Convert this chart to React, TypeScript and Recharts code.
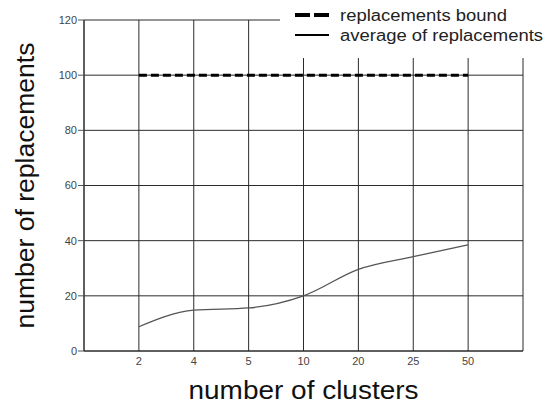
import { CartesianGrid, Label, Legend, Line, LineChart, XAxis, YAxis } from "recharts";

// x categories (number of clusters) and the two series
const clusters = ["2", "4", "5", "10", "20", "25", "50"];
const averageReplacements = [8.8, 14.8, 15.6, 20, 29.6, 34.2, 38.5];
const replacementsBound = [100, 100, 100, 100, 100, 100, 100];
const yTicks = [0, 20, 40, 60, 80, 100, 120];
const xTicks = [0, 1, 2, 3, 4, 5, 6, 7, 8];

const data = clusters.map((c, i) => ({
  pos: i + 1,
  clusters: c,
  avg: averageReplacements[i],
  bound: replacementsBound[i],
}));

const FONT = "Arial, 'Liberation Sans', sans-serif";
const GRID = "#2b2b2b";

function YTitle({ viewBox }: any) {
  const cx = 34;
  const cy = viewBox.y + viewBox.height / 2;
  return (
    <text
      x={cx}
      y={cy}
      transform={`rotate(-90 ${cx} ${cy})`}
      textAnchor="middle"
      fontFamily={FONT}
      fontSize={25}
      fill="#111"
      textLength={286}
      lengthAdjust="spacingAndGlyphs"
    >
      number of replacements
    </text>
  );
}

function XTitle({ viewBox }: any) {
  const cx = viewBox.x + viewBox.width / 2;
  return (
    <text
      x={cx}
      y={399}
      textAnchor="middle"
      fontFamily={FONT}
      fontSize={25}
      fill="#111"
      textLength={230}
      lengthAdjust="spacingAndGlyphs"
    >
      number of clusters
    </text>
  );
}

function LegendBox() {
  return (
    <svg width={270} height={58} style={{ display: "block" }}>
      <line x1={15} y1={15} x2={49} y2={15} stroke="#000" strokeWidth={4} strokeDasharray="15 4" />
      <text x={60} y={21} fontFamily={FONT} fontSize={16} fill="#222" textLength={167} lengthAdjust="spacingAndGlyphs">
        replacements bound
      </text>
      <line x1={15} y1={35} x2={49} y2={35} stroke="#000" strokeWidth={2} />
      <text x={60} y={41} fontFamily={FONT} fontSize={16} fill="#222" textLength={203} lengthAdjust="spacingAndGlyphs">
        average of replacements
      </text>
    </svg>
  );
}

export default function App() {
  return (
    <div style={{ position: "absolute", left: 0, top: 0, width: 550, height: 412, background: "#fff" }}>
      <LineChart width={550} height={412} data={data} margin={{ top: 20, right: 27, bottom: 0, left: 0 }}>
        <CartesianGrid stroke={GRID} strokeWidth={1} />
        <XAxis
          dataKey="pos"
          type="number"
          domain={[0, 8]}
          ticks={xTicks}
          tickFormatter={(v: number) => clusters[v - 1] ?? ""}
          tickLine={false}
          tickSize={4}
          tickMargin={2}
          height={61}
          axisLine={{ stroke: GRID }}
          tick={{ fill: "#444", fontSize: 11, fontFamily: FONT }}
        >
          <Label content={<XTitle />} />
        </XAxis>
        <YAxis
          domain={[0, 120]}
          ticks={yTicks}
          width={84}
          tickSize={6}
          tickMargin={1}
          axisLine={{ stroke: GRID }}
          tickLine={{ stroke: "#555" }}
          tick={{ fill: "#444", fontSize: 11, fontFamily: FONT }}
        >
          <Label content={<YTitle />} />
        </YAxis>
        <Legend
          layout="vertical"
          align="center"
          verticalAlign="middle"
          content={<LegendBox />}
          wrapperStyle={{ top: 0, left: 280, width: 270, height: 58, backgroundColor: "#fff" }}
        />
        <Line
          dataKey="bound"
          name="replacements bound"
          stroke="#000"
          strokeWidth={3}
          strokeDasharray="8 4"
          dot={false}
          isAnimationActive={false}
        />
        <Line
          dataKey="avg"
          name="average of replacements"
          type="monotone"
          stroke="#555"
          strokeWidth={1.3}
          dot={false}
          isAnimationActive={false}
        />
      </LineChart>
    </div>
  );
}
